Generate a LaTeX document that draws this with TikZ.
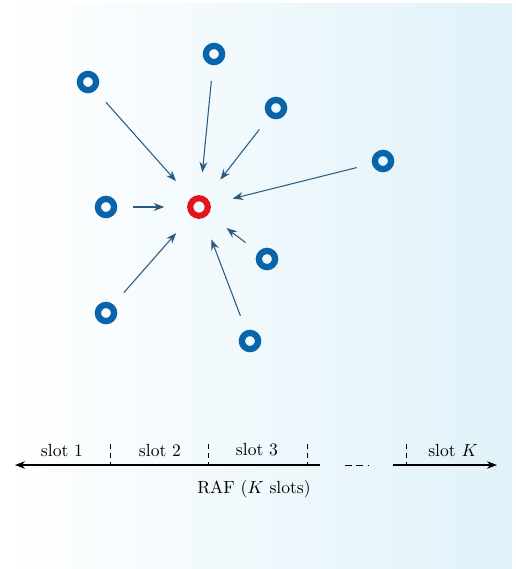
\documentclass[tikz,border=0pt]{standalone}
\usepackage{tikz}
\usetikzlibrary{arrows.meta,positioning}

\definecolor{ringblue}{RGB}{10,100,170}
\definecolor{ringred}{RGB}{228,20,30}
\definecolor{arrowblue}{RGB}{40,90,130}
\definecolor{bgblue}{RGB}{224,242,249}

\tikzset{
  sensor/.style={circle, draw=ringblue, line width=3.6pt, minimum size=9.2pt, inner sep=0pt},
  sink/.style={circle, draw=ringred, line width=3.5pt, minimum size=10pt, inner sep=0pt},
  link/.style={-{Stealth[length=6pt,width=4.5pt]}, arrowblue, line width=0.6pt,
    shorten <=9pt, shorten >=13pt},
  slotlab/.style={font=\normalsize, inner sep=1pt}
}

\begin{document}
\begin{tikzpicture}[x=0.02cm, y=-0.02cm, >=Stealth]
  % background
  \useasboundingbox (0,0) rectangle (515,569);
  \shade[left color=white, middle color=white!85!bgblue, right color=bgblue]
    (0,3) rectangle (512,569);

  % receiver
  \node[sink] (rx) at (199,207) {};

  % transmitters
  \foreach \name/\x/\y in {a/88/82, b/214/54, c/276/108, d/383/161,
                           e/106/207, f/267/259, g/106/313, h/250/341} {
    \node[sensor] (\name) at (\x,\y) {};
    \draw[link] (\name) -- (rx);
  }

  % frame axis
  \coordinate (L) at (15,465);
  \coordinate (M) at (320,465);
  \coordinate (R0) at (393,465);
  \coordinate (R) at (497,465);
  \draw[<-, line width=0.6pt] (L) -- (M);
  \draw[->, line width=0.6pt] (R0) -- (R);
  \draw[dashed, dash pattern=on 4pt off 2.5pt] (345,465) -- (369,465);

  % slot boundaries
  \foreach \x in {110, 208, 307, 406} {
    \draw[dashed, dash pattern=on 3pt off 2pt, line width=0.4pt] (\x,444) -- (\x,465);
  }

  % slot labels
  \node[slotlab] (s1) at (62,450) {slot 1};
  \node[slotlab] (s2) at (160,450) {slot 2};
  \node[slotlab] (s3) at (257,450) {slot 3};
  \node[slotlab] (sK) at (453,450) {slot $K$};
  \node[slotlab] (raf) at (254,489) {RAF ($K$ slots)};
\end{tikzpicture}
\end{document}
